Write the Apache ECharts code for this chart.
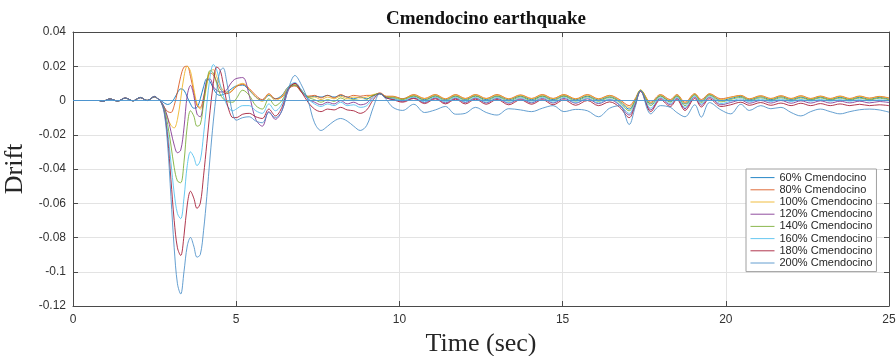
<!DOCTYPE html>
<html>
<head>
<meta charset="utf-8">
<script src="https://cdn.jsdelivr.net/npm/echarts@6/dist/echarts.min.js"></script>
<style>html,body{margin:0;padding:0;background:#fff;}#c{width:896px;height:356px;}</style>
</head>
<body>
<div id="c"></div>
<script>
// Time axis (sec)
const timeSec = [
  0, 0.8, 0.9, 1.13, 1.37, 1.6, 1.84, 2.06, 2.27, 2.5,
  2.6, 2.7, 2.8, 2.9, 3.0, 3.1, 3.2, 3.3, 3.4, 3.5, 3.6, 3.7, 3.8, 3.9, 4.0, 4.1, 4.2, 4.3, 4.4, 4.5, 4.6, 4.7, 4.8, 4.9, 5.0,
  5.2, 5.4, 5.6, 5.8, 6.0, 6.2, 6.4, 6.6, 6.8, 7.0, 7.2, 7.4, 7.6, 7.8, 8.0, 8.2, 8.4, 8.6, 8.8, 9.0, 9.2, 9.4, 9.6,
  9.8, 10.1, 10.44, 10.77, 11.1, 11.41, 11.72, 12.02, 12.33, 12.66, 12.99, 13.35, 13.71, 14.05, 14.38, 14.71, 15.04, 15.4, 15.76, 16.1,
  16.44, 16.75, 17.04, 17.22, 17.39, 17.7, 18.0, 18.3, 18.5, 18.75, 19.05, 19.25, 19.5, 19.85, 20.15, 20.46, 20.72, 21.07, 21.38, 21.69,
  22.0, 22.3, 22.6, 22.9, 23.2, 23.5, 23.8, 24.1, 24.4, 24.7, 25.0
];

const drift60 = [
  0, 0, -0.0005, 0.0008, -0.0003, 0.0013, -0.0002, 0.0016, 0.0000, 0.0020,
  0.0010, 0.0000, -0.0015, -0.0023, -0.0015, 0.0010, 0.0045, 0.0068, 0.0060, 0.0020, -0.0020, -0.0045, -0.0040, 0.0010, 0.0080, 0.0127, 0.0110, 0.0070, 0.0040, 0.0030, 0.0035, 0.0045, 0.0060, 0.0075, 0.0085,
  0.0090, 0.0060, 0.0020, 0.0000, 0.0030, 0.0010, 0.0030, 0.0080, 0.0090, 0.0050, 0.0020, 0.0025, 0.0020, 0.0030, 0.0020, 0.0030, 0.0020, 0.0010, 0.0020, 0.0010, 0.0030, 0.0040, 0.0020,
  0.0020, 0.0010, 0.0028, 0.0005, 0.0028, 0.0005, 0.0027, 0.0006, 0.0028, 0.0005, 0.0027, 0.0004, 0.0026, 0.0005, 0.0027, 0.0005, 0.0028, 0.0004, 0.0026, 0.0003,
  0.0022, -0.0005, -0.0050, 0.0000, 0.0058, -0.0020, 0.0028, -0.0005, 0.0028, -0.0020, 0.0035, -0.0005, 0.0035, 0.0000, 0.0012, 0.0024, 0.0004, 0.0022, 0.0005, 0.0022,
  0.0006, 0.0020, 0.0006, 0.0020, 0.0006, 0.0019, 0.0006, 0.0019, 0.0007, 0.0018, 0.0008
];
const drift80 = [
  0, 0, -0.0005, 0.0009, -0.0003, 0.0014, -0.0002, 0.0017, 0.0000, 0.0021,
  0.0010, -0.0010, -0.0040, -0.0065, -0.0070, -0.0030, 0.0050, 0.0140, 0.0195, 0.0200, 0.0140, 0.0050, -0.0030, -0.0040, 0.0020, 0.0110, 0.0160, 0.0150, 0.0110, 0.0070, 0.0050, 0.0040, 0.0045, 0.0060, 0.0080,
  0.0095, 0.0070, 0.0030, 0.0005, 0.0040, 0.0010, 0.0020, 0.0070, 0.0085, 0.0050, 0.0025, 0.0030, 0.0015, 0.0030, 0.0015, 0.0035, 0.0020, 0.0030, 0.0025, 0.0030, 0.0030, 0.0045, 0.0025,
  0.0025, 0.0010, 0.0035, 0.0012, 0.0035, 0.0010, 0.0035, 0.0012, 0.0035, 0.0012, 0.0035, 0.0010, 0.0033, 0.0012, 0.0035, 0.0012, 0.0035, 0.0010, 0.0035, 0.0010,
  0.0030, 0.0005, -0.0030, 0.0010, 0.0060, -0.0010, 0.0035, 0.0005, 0.0035, -0.0010, 0.0040, 0.0005, 0.0040, 0.0010, 0.0020, 0.0030, 0.0010, 0.0028, 0.0012, 0.0028,
  0.0012, 0.0028, 0.0012, 0.0026, 0.0012, 0.0026, 0.0012, 0.0026, 0.0014, 0.0024, 0.0015
];
const drift100 = [
  0, 0, -0.0005, 0.0009, -0.0003, 0.0014, -0.0002, 0.0017, 0.0000, 0.0022,
  0.0010, -0.0010, -0.0050, -0.0100, -0.0145, -0.0160, -0.0110, 0.0010, 0.0140, 0.0200, 0.0170, 0.0070, -0.0020, -0.0050, -0.0010, 0.0090, 0.0170, 0.0180, 0.0140, 0.0090, 0.0060, 0.0050, 0.0050, 0.0065, 0.0085,
  0.0100, 0.0065, 0.0020, -0.0005, 0.0035, 0.0000, 0.0025, 0.0080, 0.0095, 0.0055, 0.0020, 0.0020, 0.0005, 0.0020, 0.0010, 0.0025, 0.0010, 0.0020, 0.0015, 0.0020, 0.0035, 0.0040, 0.0020,
  0.0022, 0.0008, 0.0032, 0.0010, 0.0033, 0.0008, 0.0032, 0.0010, 0.0033, 0.0010, 0.0032, 0.0008, 0.0030, 0.0010, 0.0032, 0.0010, 0.0033, 0.0008, 0.0032, 0.0008,
  0.0028, 0.0000, -0.0040, 0.0005, 0.0062, -0.0015, 0.0032, 0.0000, 0.0032, -0.0015, 0.0038, 0.0000, 0.0038, 0.0005, 0.0018, 0.0028, 0.0008, 0.0026, 0.0010, 0.0026,
  0.0010, 0.0026, 0.0010, 0.0024, 0.0010, 0.0024, 0.0010, 0.0024, 0.0012, 0.0022, 0.0013
];
const drift120 = [
  0, 0, -0.0005, 0.0009, -0.0003, 0.0014, -0.0002, 0.0017, 0.0000, 0.0022,
  0.0010, -0.0005, -0.0040, -0.0100, -0.0180, -0.0260, -0.0305, -0.0290, -0.0160, 0.0030, 0.0088, 0.0030, -0.0080, -0.0095, 0.0000, 0.0120, 0.0125, 0.0080, 0.0060, 0.0050, 0.0050, 0.0060, 0.0090, 0.0115, 0.0128,
  0.0134, 0.0030, -0.0110, -0.0150, -0.0065, -0.0110, -0.0060, 0.0060, 0.0100, 0.0060, 0.0010, -0.0010, -0.0025, -0.0010, -0.0020, 0.0000, -0.0020, -0.0010, -0.0025, -0.0015, 0.0025, 0.0040, 0.0015,
  0.0008, -0.0005, 0.0015, -0.0012, 0.0015, -0.0014, 0.0013, -0.0012, 0.0014, -0.0014, 0.0012, -0.0016, 0.0010, -0.0014, 0.0012, -0.0015, 0.0012, -0.0016, 0.0010, -0.0018,
  0.0005, -0.0028, -0.0085, -0.0020, 0.0055, -0.0055, 0.0012, -0.0025, 0.0012, -0.0048, 0.0020, -0.0028, 0.0018, -0.0025, -0.0012, 0.0002, -0.0016, 0.0000, -0.0015, 0.0000,
  -0.0016, -0.0002, -0.0015, -0.0002, -0.0015, -0.0004, -0.0014, -0.0004, -0.0014, -0.0006, -0.0012
];
const drift140 = [
  0, 0, -0.0005, 0.0009, -0.0003, 0.0014, -0.0002, 0.0018, 0.0000, 0.0023,
  0.0010, -0.0010, -0.0050, -0.0140, -0.0260, -0.0390, -0.0470, -0.0480, -0.0360, -0.0150, -0.0060, -0.0090, -0.0150, -0.0140, -0.0020, 0.0110, 0.0175, 0.0160, 0.0100, 0.0040, 0.0010, 0.0000, -0.0010, -0.0010, 0.0010,
  0.0060, 0.0030, -0.0030, -0.0050, 0.0010, -0.0030, 0.0000, 0.0070, 0.0090, 0.0060, 0.0020, 0.0005, -0.0010, 0.0005, -0.0005, 0.0015, 0.0000, 0.0005, 0.0000, 0.0005, 0.0030, 0.0040, 0.0020,
  0.0015, 0.0005, 0.0025, 0.0000, 0.0025, -0.0002, 0.0024, 0.0000, 0.0025, -0.0002, 0.0023, -0.0004, 0.0022, -0.0002, 0.0024, -0.0002, 0.0025, -0.0004, 0.0022, -0.0005,
  0.0018, -0.0012, -0.0060, -0.0005, 0.0060, -0.0030, 0.0025, -0.0010, 0.0025, -0.0030, 0.0032, -0.0012, 0.0030, -0.0008, 0.0006, 0.0018, -0.0002, 0.0016, 0.0000, 0.0016,
  0.0000, 0.0015, 0.0002, 0.0015, 0.0002, 0.0014, 0.0002, 0.0014, 0.0003, 0.0013, 0.0004
];
const drift160 = [
  0, 0, -0.0005, 0.0009, -0.0003, 0.0014, -0.0002, 0.0018, 0.0000, 0.0023,
  0.0010, -0.0010, -0.0060, -0.0180, -0.0360, -0.0540, -0.0660, -0.0690, -0.0570, -0.0380, -0.0300, -0.0330, -0.0380, -0.0350, -0.0200, -0.0020, 0.0140, 0.0210, 0.0180, 0.0100, 0.0030, -0.0020, -0.0050, -0.0060, -0.0050,
  -0.0030, -0.0030, -0.0060, -0.0075, -0.0020, -0.0060, -0.0020, 0.0080, 0.0105, 0.0060, 0.0010, -0.0020, -0.0035, -0.0020, -0.0030, -0.0010, -0.0030, -0.0025, -0.0040, -0.0030, 0.0015, 0.0040, 0.0015,
  0.0010, 0.0000, 0.0020, -0.0008, 0.0020, -0.0008, 0.0018, -0.0008, 0.0018, -0.0010, 0.0017, -0.0012, 0.0016, -0.0010, 0.0018, -0.0010, 0.0018, -0.0012, 0.0015, -0.0014,
  0.0010, -0.0022, -0.0075, -0.0015, 0.0058, -0.0045, 0.0018, -0.0018, 0.0018, -0.0040, 0.0026, -0.0020, 0.0024, -0.0018, -0.0004, 0.0010, -0.0008, 0.0008, -0.0006, 0.0008,
  -0.0006, 0.0006, -0.0004, 0.0006, -0.0004, 0.0005, -0.0004, 0.0005, -0.0003, 0.0004, -0.0002
];
const drift180 = [
  0, 0, -0.0005, 0.0009, -0.0003, 0.0015, -0.0002, 0.0018, 0.0000, 0.0024,
  0.0010, -0.0010, -0.0070, -0.0220, -0.0460, -0.0700, -0.0860, -0.0905, -0.0790, -0.0610, -0.0530, -0.0570, -0.0630, -0.0600, -0.0440, -0.0250, -0.0060, 0.0100, 0.0195, 0.0180, 0.0100, 0.0000, -0.0070, -0.0100, -0.0100,
  -0.0080, -0.0075, -0.0095, -0.0105, -0.0050, -0.0090, -0.0040, 0.0070, 0.0100, 0.0050, -0.0010, -0.0050, -0.0065, -0.0050, -0.0055, -0.0040, -0.0055, -0.0060, -0.0075, -0.0055, 0.0005, 0.0040, 0.0015,
  0.0005, -0.0010, 0.0012, -0.0018, 0.0010, -0.0020, 0.0008, -0.0020, 0.0008, -0.0022, 0.0006, -0.0025, 0.0004, -0.0022, 0.0005, -0.0025, 0.0004, -0.0028, 0.0000, -0.0030,
  -0.0008, -0.0040, -0.0100, -0.0030, 0.0055, -0.0065, 0.0005, -0.0035, 0.0005, -0.0058, 0.0012, -0.0038, 0.0010, -0.0035, -0.0025, -0.0010, -0.0028, -0.0012, -0.0028, -0.0015,
  -0.0030, -0.0016, -0.0030, -0.0018, -0.0030, -0.0020, -0.0030, -0.0022, -0.0030, -0.0025, -0.0030
];
const drift200 = [
  0, 0, -0.0005, 0.0009, -0.0003, 0.0015, -0.0002, 0.0018, 0.0000, 0.0024,
  0.0010, -0.0010, -0.0080, -0.0260, -0.0560, -0.0860, -0.1070, -0.1130, -0.1000, -0.0850, -0.0800, -0.0850, -0.0915, -0.0900, -0.0760, -0.0560, -0.0330, -0.0120, 0.0050, 0.0170, 0.0190, 0.0120, 0.0010, -0.0080, -0.0115,
  -0.0100, -0.0095, -0.0120, -0.0130, -0.0070, -0.0100, -0.0060, 0.0070, 0.0146, 0.0090, 0.0000, -0.0130, -0.0175, -0.0150, -0.0120, -0.0105, -0.0120, -0.0150, -0.0175, -0.0145, -0.0040, 0.0040, 0.0005,
  -0.0040, -0.0058, -0.0022, -0.0070, -0.0055, -0.0035, -0.0080, -0.0075, -0.0040, -0.0070, -0.0085, -0.0048, -0.0055, -0.0065, -0.0045, -0.0030, -0.0065, -0.0052, -0.0060, -0.0095,
  -0.0045, -0.0030, -0.0140, -0.0040, 0.0058, -0.0078, -0.0030, -0.0040, -0.0070, -0.0095, -0.0025, -0.0097, -0.0012, -0.0055, -0.0078, -0.0022, -0.0058, -0.0030, -0.0048, -0.0040,
  -0.0070, -0.0090, -0.0065, -0.0050, -0.0065, -0.0078, -0.0065, -0.0054, -0.0050, -0.0055, -0.0068
];

const seriesNames = ['60% Cmendocino', '80% Cmendocino', '100% Cmendocino', '120% Cmendocino',
                     '140% Cmendocino', '160% Cmendocino', '180% Cmendocino', '200% Cmendocino'];
const seriesValues = [drift60, drift80, drift100, drift120, drift140, drift160, drift180, drift200];
const seriesColors = ['#0072BD', '#D95319', '#EDB120', '#7E2F8E', '#77AC30', '#4DBEEE', '#A2142F', '#4a8ec8'];

const xTicks = { min: 0, max: 25, interval: 5 };
const yTicks = { min: -0.12, max: 0.04, interval: 0.02 };

const axisColor = '#4a4a4a';
const labelFont = { fontFamily: 'Liberation Sans', fontSize: 12, color: '#333333' };

const series = seriesNames.map((name, i) => {
  const s = {
    name: name,
    type: 'line',
    xAxisIndex: 0,
    yAxisIndex: 0,
    symbol: 'none',
    smooth: 0.35,
    lineStyle: { width: 1, color: seriesColors[i], opacity: 0.85 },
    itemStyle: { color: seriesColors[i] },
    data: timeSec.map((t, k) => [t, seriesValues[i][k]])
  };
  if (i === 0) {
    s.markLine = {
      silent: true, symbol: 'none', label: { show: false },
      lineStyle: { color: '#4b97d2', type: 'solid', width: 1, opacity: 0.9 },
      data: [{ yAxis: 0 }]
    };
  }
  return s;
});

const chart = echarts.init(document.getElementById('c'), null, { renderer: 'canvas' });
chart.setOption({
  animation: false,
  backgroundColor: '#ffffff',
  title: {
    text: 'Cmendocino earthquake',
    left: 481, top: 5, textAlign: 'center',
    textStyle: { fontFamily: 'Liberation Serif', fontWeight: 'bold', fontSize: 19, color: '#111' }
  },
  grid: { left: 73, right: 7, top: 32, bottom: 50, containLabel: false, outerBoundsMode: 'none' },
  legend: {
    orient: 'vertical', left: 746, top: 169,
    itemWidth: 24, itemHeight: 14, itemGap: 1,
    padding: [3, 4, 3, 4],
    backgroundColor: '#ffffff', borderColor: '#a0a0a0', borderWidth: 1,
    itemStyle: { opacity: 0 },
    lineStyle: { width: 1 },
    textStyle: { fontFamily: 'Liberation Sans', fontSize: 11, color: '#262626' },
    data: seriesNames
  },
  xAxis: [{
    type: 'value', position: 'bottom', min: xTicks.min, max: xTicks.max, interval: xTicks.interval,
    name: 'Time (sec)', nameLocation: 'middle', nameGap: 21,
    nameTextStyle: { fontFamily: 'Liberation Serif', fontSize: 26, color: '#262626' },
    axisLine: { show: true, onZero: false, lineStyle: { color: axisColor, width: 1 } },
    axisTick: { show: true, inside: true, length: 5, lineStyle: { color: axisColor } },
    axisLabel: Object.assign({ margin: 8 }, labelFont),
    splitLine: { show: true, lineStyle: { color: '#e3e3e3', width: 1 } }
  }, {
    type: 'value', position: 'top', min: xTicks.min, max: xTicks.max, interval: xTicks.interval,
    axisLine: { show: true, onZero: false, lineStyle: { color: axisColor, width: 1 } },
    axisTick: { show: true, inside: true, length: 5, lineStyle: { color: axisColor } },
    axisLabel: { show: false }, splitLine: { show: false }
  }],
  yAxis: [{
    type: 'value', position: 'left', min: yTicks.min, max: yTicks.max, interval: yTicks.interval,
    name: 'Drift', nameLocation: 'middle', nameGap: 37,
    nameTextStyle: { fontFamily: 'Liberation Serif', fontSize: 26, color: '#262626' },
    axisLine: { show: true, onZero: false, lineStyle: { color: axisColor, width: 1 } },
    axisTick: { show: true, inside: true, length: 5, lineStyle: { color: axisColor } },
    axisLabel: Object.assign({ margin: 7 }, labelFont),
    splitLine: { show: true, lineStyle: { color: '#e3e3e3', width: 1 } }
  }, {
    type: 'value', position: 'right', min: yTicks.min, max: yTicks.max, interval: yTicks.interval,
    axisLine: { show: true, onZero: false, lineStyle: { color: axisColor, width: 1 } },
    axisTick: { show: true, inside: true, length: 5, lineStyle: { color: axisColor } },
    axisLabel: { show: false }, splitLine: { show: false }
  }],
  series: series
});
</script>
</body>
</html>
